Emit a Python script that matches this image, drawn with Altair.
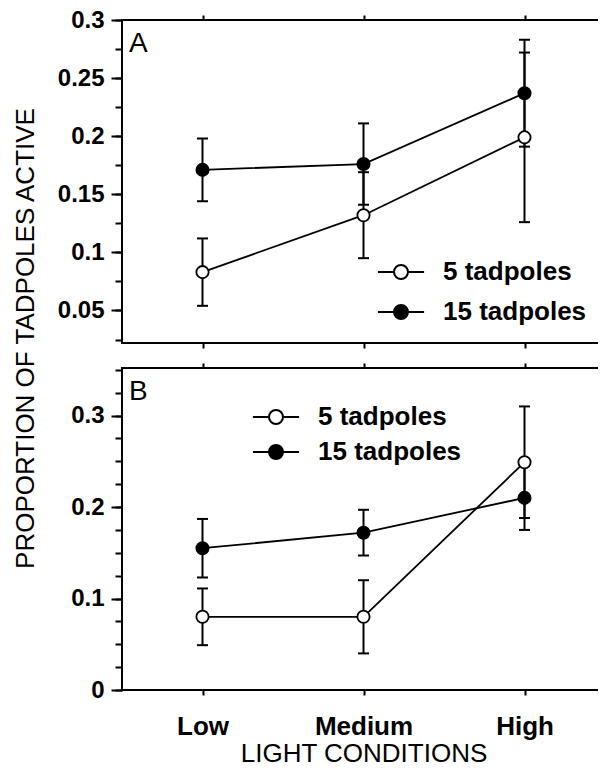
import altair as alt
import pandas as pd

FONT = "Liberation Sans"

categories = ["Low", "Medium", "High"]
series_names = ["5 tadpoles", "15 tadpoles"]

a_5_mean = [0.083, 0.132, 0.199]
a_5_err = [0.029, 0.037, 0.073]
a_15_mean = [0.171, 0.176, 0.237]
a_15_err = [0.027, 0.035, 0.046]

b_5_mean = [0.080, 0.080, 0.249]
b_5_err = [0.031, 0.040, 0.061]
b_15_mean = [0.155, 0.172, 0.210]
b_15_err = [0.032, 0.025, 0.035]

panel_letters = ["A", "B"]
a_minor_ticks = [round(0.025 * i, 3) for i in range(1, 13)]
a_major_ticks = [0.05, 0.1, 0.15, 0.2, 0.25, 0.3]
b_minor_ticks = [round(0.025 * i, 3) for i in range(0, 15)]
b_major_ticks = [0, 0.1, 0.2, 0.3]


def make_df(m5, e5, m15, e15):
    rows = []
    for s, means, errs in [(series_names[0], m5, e5), (series_names[1], m15, e15)]:
        for c, m, e in zip(categories, means, errs):
            rows.append({"light": c, "series": s, "mean": m,
                         "lo": round(m - e, 4), "hi": round(m + e, 4)})
    return pd.DataFrame(rows)


df_a = make_df(a_5_mean, a_5_err, a_15_mean, a_15_err)
df_b = make_df(b_5_mean, b_5_err, b_15_mean, b_15_err)

SYMBOL = "M-3.3,0L-1,0M1,0L3.3,0M-1,0A1,1,0,1,0,1,0A1,1,0,1,0,-1,0Z"


def panel(df, letter, ydomain, minor, major, height, bottom_axis, with_title,
          legend_x, legend_y, row_pad):
    xscale = alt.Scale(type="point", padding=0.5, domain=categories)
    yscale = alt.Scale(domain=ydomain, nice=False, zero=False)

    major_kwargs = dict(
        orient="left", values=major, tickSize=11, labelPadding=7,
        labelFontSize=24, labelFontWeight="bold", format="~g",
    )
    if with_title:
        major_kwargs.update(
            title="PROPORTION OF TADPOLES ACTIVE",
            titleX=-97, titleY=318, titleAngle=270,
            titleAlign="center", titleBaseline="middle",
            titleFontSize=26, titleFontWeight="normal",
        )
    else:
        major_kwargs.update(title=None)
    major_axis = alt.Axis(**major_kwargs)
    minor_axis = alt.Axis(orient="left", values=minor, tickSize=7,
                          labels=False, title=None)

    base = alt.Chart(df)

    rules = base.mark_rule(color="black", strokeWidth=2).encode(
        x=alt.X("light:N", scale=xscale, sort=categories,
                axis=alt.Axis(orient="top", tickSize=5, labels=False, title=None)),
        y=alt.Y("lo:Q", scale=yscale, axis=minor_axis),
        y2="hi:Q",
    )
    lines = base.mark_line(color="black", strokeWidth=1.8).encode(
        x=alt.X("light:N", scale=xscale, sort=categories, axis=bottom_axis),
        y=alt.Y("mean:Q", scale=yscale, axis=major_axis),
        detail="series:N",
    )
    cap_lo = base.mark_tick(color="black", thickness=2, size=11, opacity=1).encode(
        x=alt.X("light:N", scale=xscale, sort=categories, axis=None),
        y=alt.Y("lo:Q", scale=yscale, axis=None),
    )
    cap_hi = base.mark_tick(color="black", thickness=2, size=11, opacity=1).encode(
        x=alt.X("light:N", scale=xscale, sort=categories, axis=None),
        y=alt.Y("hi:Q", scale=yscale, axis=None),
    )
    points = base.mark_circle(size=150, opacity=1, stroke="black", strokeWidth=1.8).encode(
        x=alt.X("light:N", scale=xscale, sort=categories, axis=None),
        y=alt.Y("mean:Q", scale=yscale, axis=None),
        fill=alt.Fill(
            "series:N",
            scale=alt.Scale(domain=series_names, range=["white", "black"]),
            legend=alt.Legend(
                title=None, orient="none", legendX=legend_x, legendY=legend_y,
                symbolType=SYMBOL, symbolSize=196,
                symbolStrokeColor="black", symbolStrokeWidth=2,
                labelFont=FONT, labelFontSize=26, labelFontWeight="bold",
                labelColor="black", labelOffset=29, labelLimit=400,
                rowPadding=row_pad, padding=0,
            ),
        ),
    )
    label = alt.Chart(pd.DataFrame({"letter": [letter]})).mark_text(
        font=FONT, fontSize=28, align="left", baseline="alphabetic", color="black"
    ).encode(
        x=alt.value(7), y=alt.value(32), text="letter:N"
    )
    return alt.layer(rules, lines, cap_lo, cap_hi, points, label).resolve_axis(
        x="independent", y="independent"
    ).properties(width=483, height=height)


axis_a_bottom = alt.Axis(orient="bottom", tickSize=5, labels=False, title=None)
axis_b_bottom = alt.Axis(
    orient="bottom", tickSize=5, labelAngle=0, labelPadding=18,
    labelFontSize=26, labelFontWeight="bold",
    title="LIGHT CONDITIONS", titlePadding=1, titleFontSize=26,
    titleFontWeight="normal",
)

panel_a = panel(df_a, panel_letters[0], [0.022, 0.3], a_minor_ticks, a_major_ticks,
                323, axis_a_bottom, True, 266, 239, 14)
panel_b = panel(df_b, panel_letters[1], [0, 0.352], b_minor_ticks, b_major_ticks,
                322, axis_b_bottom, False, 141, 36, 9)

chart = alt.vconcat(panel_a, panel_b, spacing=25, bounds="flush").resolve_scale(
    fill="independent"
).properties(
    padding={"left": 3, "top": -1, "right": -8, "bottom": -2}
).configure(
    font=FONT
).configure_view(
    stroke="black", strokeWidth=2
).configure_axis(
    domain=False, grid=False, tickColor="black", tickWidth=2,
    labelColor="black", titleColor="black", labelFont=FONT, titleFont=FONT,
)

chart.save("out.html", embed_options={"renderer": "svg", "actions": False})
